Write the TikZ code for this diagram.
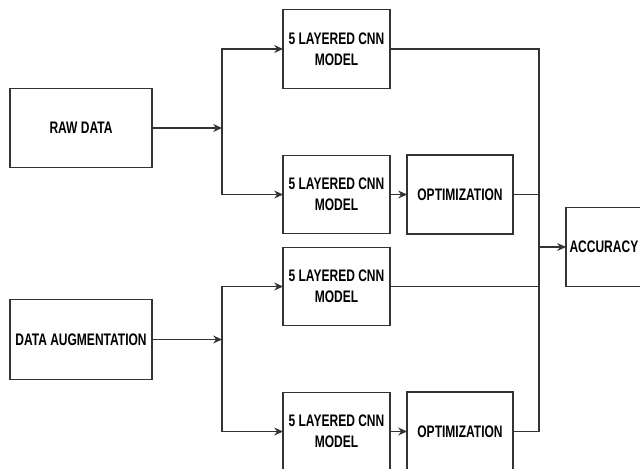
\documentclass[tikz,border=0pt]{standalone}
\usepackage{fontspec}
\setmainfont{Liberation Sans}[FakeStretch=0.72]
\usepackage{tikz}
\usetikzlibrary{arrows.meta}

\begin{document}
\begin{tikzpicture}[x=0.02cm, y=-0.02cm,
  every node/.style={draw=black!80, line width=0.6pt, outer sep=0pt, inner sep=1pt, align=center,
    font=\fontsize{9.5}{12}\selectfont\bfseries},
  bigbox/.style={minimum width=2.84cm, minimum height=1.59cm},
  cnnbox/.style={minimum width=2.14cm, minimum height=1.57cm},
  optbox/.style={minimum width=2.12cm, minimum height=1.58cm},
  link/.style={draw=black!80, line width=0.6pt},
  feed/.style={link, -{Stealth[length=5pt, width=4.5pt]}}]
\useasboundingbox (0,0) rectangle (640,468);
\clip (0,0) rectangle (640,468);

\node[bigbox] (raw) at (81,128) {RAW DATA};
\node[bigbox] (aug) at (81,339.5) {DATA AUGMENTATION};

\node[cnnbox] (cnnA) at (336.5,49) {5 LAYERED CNN\\MODEL};
\node[cnnbox] (cnnB) at (336.5,194.5) {5 LAYERED CNN\\MODEL};
\node[cnnbox] (cnnC) at (336.5,286.5) {5 LAYERED CNN\\MODEL};
\node[cnnbox] (cnnD) at (336.5,431.5) {5 LAYERED CNN\\MODEL};

\node[optbox] (optB) at (460,194.5) {OPTIMIZATION};
\node[optbox] (optD) at (460,431.5) {OPTIMIZATION};

\node[optbox, anchor=west, text width=2.0cm, align=left, inner sep=2pt] (acc) at (566,247) {ACCURACY};

\coordinate (splitA) at (222,128);
\coordinate (splitB) at (222,339.5);
\coordinate (merge) at (539,247);

\draw[feed] (raw) -- (splitA);
\draw[feed] (splitA) |- (cnnA);
\draw[feed] (splitA) |- (cnnB);
\draw[feed] (aug) -- (splitB);
\draw[feed] (splitB) |- (cnnC);
\draw[feed] (splitB) |- (cnnD);

\draw[feed] (cnnB) -- (optB);
\draw[feed] (cnnD) -- (optD);

\draw[link] (cnnA) -| (merge);
\draw[link] (optB) -| (merge);
\draw[link] (cnnC) -| (merge);
\draw[link] (optD) -| (merge);
\draw[feed] (merge) -- (acc);
\end{tikzpicture}
\end{document}
